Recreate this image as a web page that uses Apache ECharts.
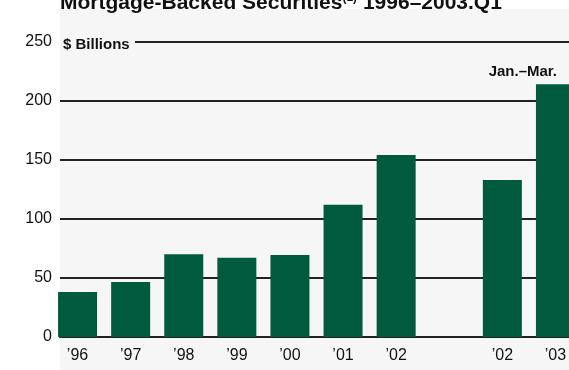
<!DOCTYPE html>
<html>
<head>
<meta charset="utf-8">
<script src="https://cdn.jsdelivr.net/npm/echarts@6/dist/echarts.min.js"></script>
<style>
  html, body { margin: 0; padding: 0; background: #ffffff; }
  #bg { position: absolute; left: 60px; top: 9px; width: 509px; height: 361px; background: #f6f6f6; }
  #chart { position: absolute; left: 0; top: 0; width: 569px; height: 370px; }
</style>
</head>
<body>
<div id="bg"></div>
<div id="chart"></div>
<script>
var categories = ["\u201996", "\u201997", "\u201998", "\u201999", "\u201900", "\u201901", "\u201902", "", "\u201902", "\u201903"];
var values = [38, 46.5, 70, 67, 69.5, 112, 154, null, 133, 214];
var yTicks = [0, 50, 100, 150, 200, 250];
var titleMain = "Mortgage-Backed Securities";
var titleSup = "(1)";
var titleRest = " 1996\u20132003.Q1";
var unitLabel = "$ Billions";
var periodLabel = "Jan.\u2013Mar.";

var FONT = "'Liberation Sans', Arial, sans-serif";
var chart = echarts.init(document.getElementById('chart'), null, { renderer: 'canvas' });
var yMin = yTicks[0], yMax = yTicks[yTicks.length - 1], yInt = yTicks[1] - yTicks[0];

chart.setOption({
  backgroundColor: 'transparent',
  animation: false,
  grid: [
    { left: 60, right: 0, top: 41.7, bottom: 33, containLabel: false, outerBoundsMode: 'none' },
    { left: 51, width: 531, top: 41.7, bottom: 33, containLabel: false, outerBoundsMode: 'none' }
  ],
  xAxis: [
    { gridIndex: 0, type: 'category', data: categories, boundaryGap: true,
      axisLine: { show: true, lineStyle: { color: '#222', width: 2 } },
      axisTick: { show: false }, axisLabel: { show: false }, splitLine: { show: false } },
    { gridIndex: 1, type: 'category', data: categories, boundaryGap: true,
      axisLine: { show: false }, axisTick: { show: false },
      axisLabel: { show: true, interval: 0, margin: 11, color: '#111', fontSize: 16, fontFamily: FONT },
      splitLine: { show: false } }
  ],
  yAxis: [
    { gridIndex: 0, type: 'value', min: yMin, max: yMax, interval: yInt,
      axisLine: { show: false }, axisTick: { show: false },
      axisLabel: { show: true, margin: 8, color: '#111', fontSize: 16, fontFamily: FONT },
      splitLine: { show: true, lineStyle: { color: '#222', width: 2 } } },
    { gridIndex: 1, type: 'value', min: yMin, max: yMax, interval: yInt, show: false,
      splitLine: { show: false } }
  ],
  series: [
    { type: 'bar', xAxisIndex: 1, yAxisIndex: 1, data: values, barWidth: 39,
      itemStyle: { color: '#005a3d' }, z: 5 }
  ],
  graphic: [
    { type: 'rect', left: 60, top: 34, shape: { width: 75, height: 14 }, style: { fill: '#f6f6f6' }, z: 100 },
    { type: 'text', x: 63, y: 45, z: 101,
      style: { text: unitLabel, fill: '#111', font: 'bold 15px ' + FONT, textAlign: 'left', textVerticalAlign: 'middle' } },
    { type: 'text', x: 557, y: 72, z: 101,
      style: { text: periodLabel, fill: '#111', font: 'bold 15px ' + FONT, textAlign: 'right', textVerticalAlign: 'middle' } },
    { type: 'text', x: 60, y: 14, z: 101,
      style: {
        text: '{t|' + titleMain + '}{s|' + titleSup + '}{t|' + titleRest + '}',
        textAlign: 'left', textVerticalAlign: 'bottom',
        rich: {
          t: { fontSize: 21, fontWeight: 'bold', fontFamily: FONT, fill: '#111', lineHeight: 22 },
          s: { fontSize: 12, fontWeight: 'bold', fontFamily: FONT, fill: '#111', verticalAlign: 'top', lineHeight: 22 }
        }
      } }
  ]
});
</script>
</body>
</html>
